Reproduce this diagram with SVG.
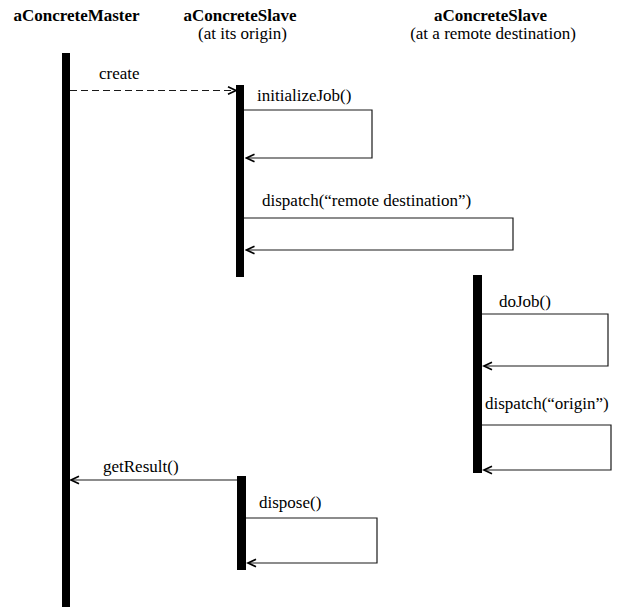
<svg xmlns="http://www.w3.org/2000/svg" width="617" height="609" viewBox="0 0 617 609">
<style>
  .hdr { font-family: "Liberation Serif", "Times New Roman", serif; font-size: 17px; font-weight: bold; fill: #000; }
  .sub { font-family: "Liberation Serif", "Times New Roman", serif; font-size: 17px; fill: #000; }
  .lbl { font-family: "Liberation Serif", "Times New Roman", serif; font-size: 17px; fill: #000; }
  .bar { fill: #000; }
  .msg { fill: none; stroke: #1a1a1a; stroke-width: 1.2; marker-end: url(#arr); }
  .dash { stroke-dasharray: 7 4; }
</style>
<defs>
  <marker id="arr" markerUnits="userSpaceOnUse" markerWidth="12" markerHeight="12" viewBox="0 0 12 12" refX="10" refY="6" orient="auto">
    <path d="M2,2.3 L10,6 L2,9.7" fill="none" stroke="#000" stroke-width="1.7"/>
  </marker>
</defs>
<rect width="617" height="609" fill="#fff"/>

<g id="master">
  <text class="hdr" x="76.5" y="21" text-anchor="middle">aConcreteMaster</text>
  <rect class="bar" x="62" y="53" width="8" height="554"/>
</g>
<g id="slave-origin">
  <text class="hdr" x="240" y="21" text-anchor="middle">aConcreteSlave</text>
  <text class="sub" x="242.5" y="39" text-anchor="middle">(at its origin)</text>
  <rect class="bar" x="236" y="85" width="8" height="192"/>
  <rect class="bar" x="237" y="476" width="9" height="94"/>
</g>
<g id="slave-remote">
  <text class="hdr" x="490.5" y="21" text-anchor="middle">aConcreteSlave</text>
  <text class="sub" x="493" y="39" text-anchor="middle">(at a remote destination)</text>
  <rect class="bar" x="473" y="275" width="9" height="198"/>
</g>

<g id="connectors">
  <path class="msg dash" d="M70,90.5 H236"/>
  <path class="msg" d="M244,110 H372 V158 H246.5"/>
  <path class="msg" d="M244,218 H513 V250 H246.5"/>
  <path class="msg" d="M482,314 H608 V366 H484"/>
  <path class="msg" d="M482,425 H611 V470 H484"/>
  <path class="msg" d="M237,480 H71"/>
  <path class="msg" d="M246,518 H377 V563 H248"/>
  <text class="lbl" x="99" y="79">create</text>
  <text class="lbl" x="257" y="101">initializeJob()</text>
  <text class="lbl" x="262" y="206">dispatch(“remote destination”)</text>
  <text class="lbl" x="499" y="307">doJob()</text>
  <text class="lbl" x="485" y="409">dispatch(“origin”)</text>
  <text class="lbl" x="103" y="472">getResult()</text>
  <text class="lbl" x="259" y="508">dispose()</text>
</g>
</svg>
